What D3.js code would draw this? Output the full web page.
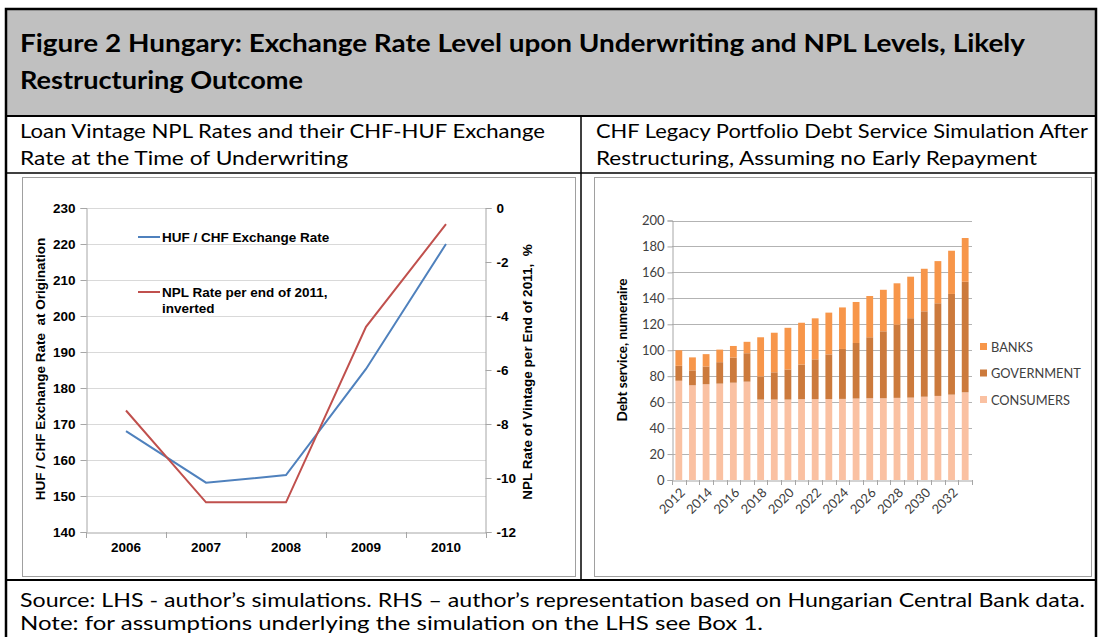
<!DOCTYPE html>
<html>
<head>
<meta charset="utf-8">
<script src="https://cdn.jsdelivr.net/npm/d3@7"></script>
<style>
  html, body { margin: 0; padding: 0; background: #fff; }
  svg { display: block; }
  .lbl { font-family: "Liberation Sans", Arial, sans-serif; font-weight: bold; font-size: 13.5px; fill: #000; }
  .cal { font-family: Lato, "Open Sans", sans-serif; }
</style>
</head>
<body>
<svg id="page" width="1099" height="637"></svg>
<script>
// ---- left chart data ----
const vintageYears = ['2006', '2007', '2008', '2009', '2010'];
const hufChfRate = [168.0, 153.7, 155.8, 185.3, 220.0];
const nplInverted = [-7.5, -10.9, -10.9, -4.4, -0.6];
const fxTicks = [140, 150, 160, 170, 180, 190, 200, 210, 220, 230];
const nplTicks = [-12, -10, -8, -6, -4, -2, 0];

// ---- right chart data ----
const simYears = ['2012', '2013', '2014', '2015', '2016', '2017', '2018', '2019', '2020', '2021', '2022',
  '2023', '2024', '2025', '2026', '2027', '2028', '2029', '2030', '2031', '2032', '2033'];
const consumers = [76.5, 73.0, 73.8, 74.3, 75.0, 75.8, 62.0, 62.0, 62.0, 62.3, 62.3,
  62.4, 62.5, 62.8, 63.0, 63.0, 63.3, 63.5, 64.2, 64.8, 65.8, 67.6];
const government = [11.5, 11.5, 13.7, 16.5, 19.4, 21.9, 17.7, 21.0, 23.2, 26.7, 30.7,
  34.4, 38.5, 42.8, 47.0, 51.6, 56.3, 61.2, 65.8, 71.4, 77.6, 85.2];
const banks = [12.0, 10.0, 9.5, 9.7, 8.9, 8.8, 30.3, 30.5, 32.1, 32.2, 31.6,
  32.2, 32.0, 31.6, 31.8, 32.0, 32.0, 32.0, 32.8, 32.5, 33.3, 33.7];
const debtTicks = [0, 20, 40, 60, 80, 100, 120, 140, 160, 180, 200];
const labelledYears = ['2012', '2014', '2016', '2018', '2020', '2022', '2024', '2026', '2028', '2030', '2032'];

const svg = d3.select('#page');

// ---- table frame ----
svg.append('rect').attr('x', 6).attr('y', 9).attr('width', 1090).attr('height', 107).attr('fill', '#c0c0c0');
const frame = svg.append('g').attr('stroke', '#000').attr('fill', 'none');
frame.append('path').attr('stroke-width', 2.5).attr('d', 'M6,640 V9 H1096 V640');
frame.append('line').attr('x1', 6).attr('x2', 1096).attr('y1', 116).attr('y2', 116).attr('stroke-width', 2);
frame.append('line').attr('x1', 6).attr('x2', 1096).attr('y1', 173).attr('y2', 173).attr('stroke-width', 1.5);
frame.append('line').attr('x1', 6).attr('x2', 1096).attr('y1', 580).attr('y2', 580).attr('stroke-width', 2);
frame.append('line').attr('x1', 581).attr('x2', 581).attr('y1', 116).attr('y2', 580).attr('stroke-width', 1.5);

function fitText(x, y, str, width, size, weight) {
  svg.append('text').attr('class', 'cal')
    .attr('x', x).attr('y', y)
    .attr('font-size', size).attr('font-weight', weight).attr('fill', '#000')
    .attr('textLength', width).attr('lengthAdjust', 'spacingAndGlyphs')
    .text(str);
}
fitText(20, 52, 'Figure 2 Hungary: Exchange Rate Level upon Underwriting and NPL Levels, Likely', 1005, 25, 'bold');
fitText(20, 89, 'Restructuring Outcome', 283, 25, 'bold');
fitText(20, 138, 'Loan Vintage NPL Rates and their CHF-HUF Exchange', 525, 20, 'normal');
fitText(20, 165, 'Rate at the Time of Underwriting', 328, 20, 'normal');
fitText(596, 138, 'CHF Legacy Portfolio Debt Service Simulation After', 492, 20, 'normal');
fitText(596, 165, 'Restructuring, Assuming no Early Repayment', 441, 20, 'normal');
fitText(20, 607, 'Source: LHS - author\u2019s simulations. RHS \u2013 author\u2019s representation based on Hungarian Central Bank data.', 1065, 20, 'normal');
fitText(20, 630, 'Note: for assumptions underlying the simulation on the LHS see Box 1.', 743, 20, 'normal');

// chart area borders
svg.append('rect').attr('x', 22.5).attr('y', 177.5).attr('width', 553).attr('height', 399)
  .attr('fill', '#fff').attr('stroke', '#a0a0a0');
svg.append('rect').attr('x', 594.5).attr('y', 177.5).attr('width', 497).attr('height', 399)
  .attr('fill', '#fff').attr('stroke', '#a0a0a0');

// ================= left chart =================
const L = svg.append('g');
const x = d3.scaleBand().domain(vintageYears).range([86, 486]);
const yL = d3.scaleLinear().domain([140, 230]).range([532, 208]);
const yR = d3.scaleLinear().domain([-12, 0]).range([532, 208]);

L.append('g').selectAll('line').data(fxTicks.slice(1)).join('line')
  .attr('x1', 86).attr('x2', 486)
  .attr('y1', d => Math.round(yL(d)) + 0.5).attr('y2', d => Math.round(yL(d)) + 0.5)
  .attr('stroke', '#d9d9d9');

const axL = L.append('g').attr('transform', 'translate(86.5,0)')
  .call(d3.axisLeft(yL).tickValues(fxTicks).tickSize(6).tickPadding(5));
const axR = L.append('g').attr('transform', 'translate(485.5,0)')
  .call(d3.axisRight(yR).tickValues(nplTicks).tickSize(6).tickPadding(5).tickFormat(d => String(d)));
const axX = L.append('g').attr('transform', 'translate(0,532.5)')
  .call(d3.axisBottom(x).tickSize(0).tickPadding(10));
[axL, axR, axX].forEach(a => {
  a.selectAll('path, line').attr('stroke', '#a6a6a6');
  a.selectAll('text').attr('class', 'lbl').attr('font-size', null).attr('font-family', null);
});
const bounds = vintageYears.map(d => x(d)).concat([x.range()[1]]);
L.append('g').selectAll('line').data(bounds).join('line')
  .attr('x1', d => Math.round(d) + 0.5).attr('x2', d => Math.round(d) + 0.5)
  .attr('y1', 532).attr('y2', 538).attr('stroke', '#a6a6a6');

const line = d3.line().x((d, i) => x(vintageYears[i]) + x.bandwidth() / 2);
L.append('path').datum(hufChfRate)
  .attr('d', line.y(d => yL(d)))
  .attr('fill', 'none').attr('stroke', '#4f81bd').attr('stroke-width', 2);
L.append('path').datum(nplInverted)
  .attr('d', line.y(d => yR(d)))
  .attr('fill', 'none').attr('stroke', '#c0504d').attr('stroke-width', 2);

L.append('text').attr('class', 'lbl')
  .attr('transform', 'translate(45,369) rotate(-90)').attr('text-anchor', 'middle')
  .text('HUF / CHF Exchange Rate \u00a0at Origination');
L.append('text').attr('class', 'lbl')
  .attr('transform', 'translate(532,372) rotate(-90)').attr('text-anchor', 'middle')
  .text('NPL Rate of Vintage per End of 2011, \u00a0%');

// legend
const legL = [
  { c: '#4f81bd', y: 237, t: ['HUF / CHF Exchange Rate'] },
  { c: '#c0504d', y: 292, t: ['NPL Rate per end of 2011,', 'inverted'] }
];
legL.forEach(d => {
  L.append('line').attr('x1', 138).attr('x2', 160).attr('y1', d.y).attr('y2', d.y)
    .attr('stroke', d.c).attr('stroke-width', 2);
  d.t.forEach((s, i) => {
    L.append('text').attr('class', 'lbl').attr('x', 162).attr('y', d.y + 5 + i * 15.5).text(s);
  });
});

// ================= right chart =================
const R = svg.append('g');
const xb = d3.scaleBand().domain(simYears).range([672, 972]).paddingInner(0.5).paddingOuter(0.25);
const yb = d3.scaleLinear().domain([0, 200]).range([480, 220.5]);

R.append('g').selectAll('line').data(debtTicks.slice(1)).join('line')
  .attr('x1', 672).attr('x2', 972)
  .attr('y1', d => Math.round(yb(d)) + 0.5).attr('y2', d => Math.round(yb(d)) + 0.5)
  .attr('stroke', '#b3b3b3');

const stackData = simYears.map((y, i) => ({ year: y, consumers: consumers[i], government: government[i], banks: banks[i] }));
const keys = ['consumers', 'government', 'banks'];
const colors = { consumers: '#fac1a2', government: '#cc7a3c', banks: '#f7964a' };
const series = d3.stack().keys(keys)(stackData);
R.append('g').selectAll('g').data(series).join('g')
  .attr('fill', s => colors[s.key])
  .selectAll('rect').data(s => s).join('rect')
  .attr('x', d => xb(d.data.year)).attr('width', xb.bandwidth())
  .attr('y', d => yb(d[1])).attr('height', d => yb(d[0]) - yb(d[1]));

const ayb = R.append('g').attr('transform', 'translate(672.5,0)')
  .call(d3.axisLeft(yb).tickValues(debtTicks).tickSize(5).tickPadding(3));
const axb = R.append('g').attr('transform', 'translate(0,480.5)')
  .call(d3.axisBottom(xb).tickValues(labelledYears).tickSize(0).tickPadding(0));
[ayb, axb].forEach(a => {
  a.selectAll('path, line').attr('stroke', '#a6a6a6');
  a.selectAll('text').attr('class', 'cal').attr('font-size', 13).attr('font-family', null).attr('fill', '#404040');
});
axb.selectAll('text')
  .attr('text-anchor', 'end').attr('dy', null).attr('y', 0)
  .attr('transform', 'translate(7,13) rotate(-45)');
const bBounds = simYears.map(d => xb(d) - xb.step() * 0.25).concat([972]);
R.append('g').selectAll('line').data(bBounds).join('line')
  .attr('x1', d => Math.round(d) + 0.5).attr('x2', d => Math.round(d) + 0.5)
  .attr('y1', 480).attr('y2', 485).attr('stroke', '#a6a6a6');

R.append('text').attr('class', 'cal')
  .attr('transform', 'translate(627,350) rotate(-90)').attr('text-anchor', 'middle')
  .attr('font-size', 13.5).attr('font-weight', 'bold').attr('fill', '#000')
  .text('Debt service, numeraire');

const legR = [['banks', 'BANKS', 347], ['government', 'GOVERNMENT', 373.5], ['consumers', 'CONSUMERS', 400]];
legR.forEach(([k, t, y]) => {
  R.append('rect').attr('x', 980).attr('y', y - 4).attr('width', 7).attr('height', 7).attr('fill', colors[k]);
  R.append('text').attr('class', 'cal').attr('x', 991).attr('y', y + 4.5)
    .attr('font-size', 12.8).attr('fill', '#404040').text(t);
});
</script>
</body>
</html>
